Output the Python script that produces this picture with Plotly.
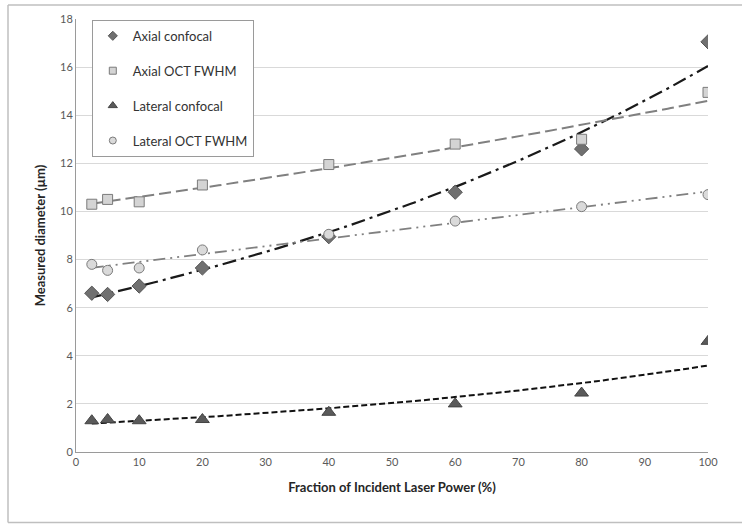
import numpy as np
import plotly.graph_objects as go

power = [2.5, 5, 10, 20, 40, 60, 80, 100]
axial_confocal = [6.6, 6.55, 6.9, 7.65, 8.95, 10.8, 12.6, 17.05]
axial_oct = [10.3, 10.5, 10.4, 11.1, 11.95, 12.8, 13.0, 14.95]
lateral_confocal = [1.3, 1.35, 1.3, 1.35, 1.65, 2.0, 2.45, 4.6]
lateral_oct = [7.8, 7.55, 7.65, 8.4, 9.05, 9.6, 10.2, 10.7]

series_names = ["Axial confocal", "Axial OCT FWHM", "Lateral confocal", "Lateral OCT FWHM"]

x_ticks = [0, 10, 20, 30, 40, 50, 60, 70, 80, 90, 100]
y_ticks = [0, 2, 4, 6, 8, 10, 12, 14, 16, 18]

FONT = "Lato, 'Open Sans', sans-serif"

def exp_fit(x, y, xs):
    b, a = np.polyfit(np.array(x), np.log(np.array(y)), 1)
    return np.exp(a) * np.exp(b * xs)

def lin_fit(x, y, xs):
    m, c = np.polyfit(np.array(x), np.array(y), 1)
    return m * xs + c

xs = np.linspace(min(power), max(power), 200)

fig = go.Figure()

# trendlines
fig.add_trace(go.Scatter(x=xs, y=exp_fit(power, axial_confocal, xs), mode="lines",
                         line=dict(color="#1a1a1a", width=2.2, dash="14px,5px,3px,5px"),
                         showlegend=False, hoverinfo="skip"))
fig.add_trace(go.Scatter(x=xs, y=exp_fit(power, axial_oct, xs), mode="lines",
                         line=dict(color="#808080", width=2, dash="12px,5px"),
                         showlegend=False, hoverinfo="skip"))
fig.add_trace(go.Scatter(x=xs, y=exp_fit(power, lateral_confocal, xs), mode="lines",
                         line=dict(color="#111111", width=2, dash="6px,3px"),
                         showlegend=False, hoverinfo="skip"))
fig.add_trace(go.Scatter(x=xs, y=lin_fit(power, lateral_oct, xs), mode="lines",
                         line=dict(color="#808080", width=1.8, dash="12px,5px,2px,5px,2px,5px"),
                         showlegend=False, hoverinfo="skip"))

styles = [
    dict(symbol="diamond", size=11, color="#707070", line=dict(color="#555555", width=1)),
    dict(symbol="square", size=10, color="#d4d4d4", line=dict(color="#7a7a7a", width=1)),
    dict(symbol="triangle-up", size=12, color="#5a5a5a", line=dict(color="#444444", width=1)),
    dict(symbol="circle", size=10, color="#dadada", line=dict(color="#7a7a7a", width=1)),
]
legend_sizes = [7, 7, 8, 7]
values = [axial_confocal, axial_oct, lateral_confocal, lateral_oct]

for i, (name, vals, st) in enumerate(zip(series_names, values, styles)):
    fig.add_trace(go.Scatter(x=power, y=vals, mode="markers", name=name,
                             marker=st, showlegend=False))
    lst = dict(st)
    lst["size"] = legend_sizes[i]
    fig.add_trace(go.Scatter(x=[None], y=[None], mode="markers", name=name,
                             legendgroup=f"g{i}", marker=lst, showlegend=True))

left = (8 - 76) / 632
right = (760 - 76) / 632
top = (452 - 2) / 436
bottom = (452 - 523) / 436
border = dict(color="#bfbfbf", width=1.5)

fig.update_layout(
    width=742, height=525,
    margin=dict(l=76, r=34, t=16, b=73),
    paper_bgcolor="white", plot_bgcolor="white",
    font=dict(family=FONT, color="#404040"),
    legend=dict(x=0.025, y=0.998, xanchor="left", yanchor="top",
                bgcolor="white", bordercolor="#9a9a9a", borderwidth=1,
                font=dict(size=13, color="#333333"), tracegroupgap=15,
                itemwidth=30),
    xaxis=dict(range=[0, 100], tickvals=x_ticks, ticktext=[str(v) for v in x_ticks],
               showgrid=False, showline=True, linecolor="#9a9a9a", linewidth=1,
               ticks="", zeroline=False,
               tickfont=dict(size=11, color="#595959"),
               title=dict(text="<b>Fraction of Incident Laser Power (%)</b>",
                          font=dict(size=13, color="#262626"), standoff=15)),
    yaxis=dict(range=[0, 18], tickvals=y_ticks, ticktext=[str(v) for v in y_ticks],
               showgrid=True, gridcolor="#d9d9d9", gridwidth=1,
               showline=True, linecolor="#9a9a9a", linewidth=1,
               ticks="", zeroline=False,
               tickfont=dict(size=11, color="#595959"),
               title=dict(text="<b>Measured diameter (µm)</b>",
                          font=dict(size=13, color="#262626"), standoff=11)),
    shapes=[
        dict(type="line", xref="paper", yref="paper", x0=left, x1=right, y0=top, y1=top,
             line=border, layer="below"),
        dict(type="line", xref="paper", yref="paper", x0=left, x1=left, y0=bottom, y1=top,
             line=border, layer="below"),
        dict(type="line", xref="paper", yref="paper", x0=left, x1=right, y0=bottom, y1=bottom,
             line=border, layer="below"),
    ],
)

fig.write_html("out.html", config={"staticPlot": True},
               post_script="document.body.style.margin='0';document.body.style.overflow='hidden';")
